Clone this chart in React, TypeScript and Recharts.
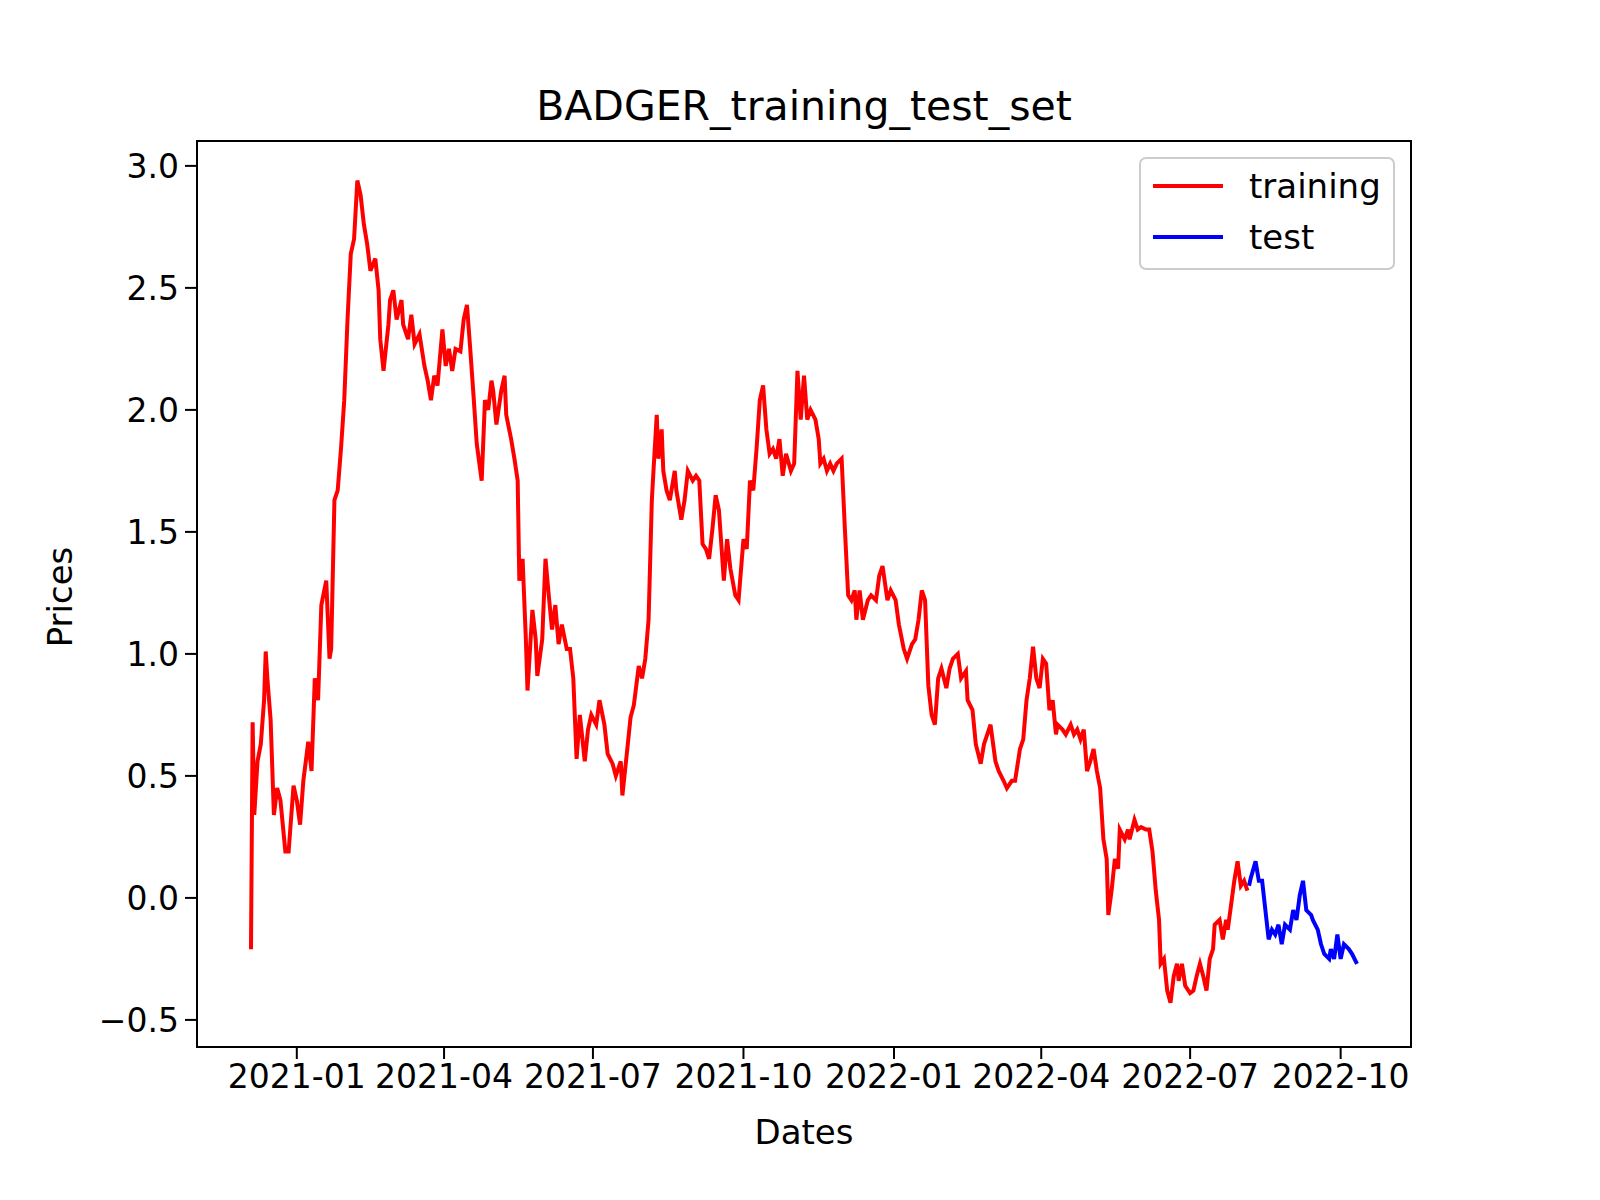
import React, { useEffect } from "react";
import { LineChart, Line, XAxis, YAxis } from "recharts";

// days since 2021-01-01
const trainDays = [-28,-27,-26,-24,-22,-20,-19,-18,-16,-14,-12,-10,-7,-5,-2,0,2,4,7,9,11,13,15,18,20,21,23,25,27,29,31,33,35,37,39,41,43,45,48,50,51,53,56,57,59,61,64,65,68,70,72,75,78,80,82,84,86,89,91,93,95,97,100,102,104,106,108,110,113,115,117,119,120,122,125,127,128,131,133,135,136,138,140,141,144,146,147,150,152,154,156,158,160,162,165,167,169,171,173,176,178,180,183,185,188,190,193,195,198,199,202,204,206,209,211,213,215,217,218,220,221,223,224,226,228,231,232,235,237,239,242,244,246,248,250,252,254,256,258,261,263,265,268,270,273,275,277,279,281,283,285,287,289,291,293,295,297,299,302,304,306,308,310,312,314,317,319,320,322,324,326,328,330,333,335,337,339,341,342,344,346,349,351,354,356,358,361,363,366,368,371,373,376,378,380,382,384,386,388,390,392,394,397,399,401,404,406,409,410,413,415,418,420,423,424,427,429,432,434,437,439,442,444,446,448,450,452,454,456,458,460,462,464,465,468,470,473,475,477,479,481,483,485,487,489,491,493,495,496,498,500,502,503,506,508,509,512,514,516,519,521,523,525,527,528,530,532,534,536,538,539,541,543,546,548,550,552,554,556,558,560,561,564,566,568,569,571,573,575,577,579,581];
const trainPrices = [-0.21,0.72,0.34,0.56,0.63,0.81,1.01,0.90,0.73,0.34,0.45,0.40,0.19,0.19,0.46,0.40,0.30,0.48,0.64,0.52,0.90,0.81,1.20,1.30,0.98,1.02,1.63,1.67,1.84,2.04,2.37,2.64,2.70,2.94,2.88,2.76,2.68,2.57,2.62,2.49,2.29,2.16,2.35,2.45,2.49,2.37,2.45,2.35,2.29,2.39,2.27,2.31,2.18,2.12,2.04,2.14,2.10,2.33,2.18,2.25,2.16,2.25,2.24,2.37,2.43,2.25,2.06,1.86,1.71,2.04,2.00,2.12,2.08,1.94,2.08,2.14,1.98,1.88,1.80,1.71,1.30,1.39,1.06,0.85,1.18,1.06,0.91,1.06,1.39,1.24,1.10,1.20,1.04,1.12,1.02,1.02,0.90,0.57,0.75,0.56,0.69,0.75,0.71,0.81,0.71,0.59,0.55,0.50,0.56,0.42,0.61,0.74,0.79,0.95,0.90,0.98,1.14,1.63,1.75,1.98,1.80,1.92,1.75,1.67,1.63,1.75,1.67,1.55,1.63,1.75,1.71,1.73,1.71,1.45,1.43,1.39,1.51,1.65,1.59,1.30,1.47,1.35,1.24,1.22,1.47,1.43,1.71,1.67,1.84,2.04,2.10,1.92,1.82,1.84,1.80,1.88,1.73,1.82,1.75,1.78,2.16,1.96,2.14,1.96,2.00,1.96,1.88,1.78,1.80,1.75,1.78,1.75,1.78,1.80,1.51,1.24,1.22,1.26,1.14,1.26,1.14,1.22,1.24,1.22,1.32,1.36,1.22,1.26,1.22,1.12,1.02,0.98,1.04,1.06,1.14,1.26,1.22,0.87,0.75,0.71,0.90,0.94,0.86,0.94,0.98,1.00,0.90,0.93,0.81,0.77,0.63,0.55,0.63,0.69,0.71,0.56,0.52,0.48,0.45,0.48,0.48,0.61,0.65,0.81,0.90,1.03,0.90,0.86,0.98,0.96,0.77,0.81,0.67,0.71,0.69,0.67,0.71,0.67,0.69,0.65,0.69,0.52,0.56,0.61,0.52,0.45,0.24,0.16,-0.07,0.03,0.16,0.12,0.28,0.24,0.28,0.24,0.32,0.28,0.29,0.28,0.28,0.19,0.03,-0.09,-0.27,-0.25,-0.38,-0.43,-0.32,-0.27,-0.34,-0.27,-0.36,-0.39,-0.38,-0.32,-0.27,-0.32,-0.38,-0.25,-0.21,-0.11,-0.09,-0.17,-0.09,-0.13,-0.03,0.07,0.15,0.05,0.07,0.03];

const testDays = [582,583,586,588,590,592,594,596,598,600,602,604,607,609,611,613,615,617,620,621,624,626,628,631,632,634,636,638,640,643,645,648];
const testPrices = [0.05,0.08,0.15,0.07,0.07,-0.05,-0.17,-0.13,-0.15,-0.11,-0.19,-0.11,-0.13,-0.05,-0.09,0.01,0.07,-0.05,-0.07,-0.09,-0.13,-0.19,-0.23,-0.25,-0.21,-0.25,-0.15,-0.25,-0.19,-0.21,-0.23,-0.27];

const xTicks = [0, 90, 181, 273, 365, 455, 546, 638];
const xTickLabels = ["2021-01","2021-04","2021-07","2021-10","2022-01","2022-04","2022-07","2022-10"];
const yTicks = [-0.5, 0, 0.5, 1.0, 1.5, 2.0, 2.5, 3.0];

const trainData = trainDays.map((d, i) => ({ d, v: trainPrices[i] }));
const testData = testDays.map((d, i) => ({ d, v: testPrices[i] }));

const font = "DejaVu Sans";
const tickFont = 33;

export default function App() {
  useEffect(() => {
    document.body.style.margin = "0";
    document.body.style.overflow = "hidden";
  }, []);
  return (
    <div style={{ position: "absolute", left: 0, top: 0, width: 1600, height: 1200, background: "#fff", fontFamily: font, overflow: "hidden" }}>
      <LineChart width={1600} height={1200} margin={{ top: 141, right: 189, left: 77, bottom: 73 }}>
        <XAxis xAxisId="b" dataKey="d" type="number" domain={[-61, 681]} ticks={xTicks}
          tickFormatter={(v: number) => xTickLabels[xTicks.indexOf(v)]}
          height={80} stroke="#000" strokeWidth={2} tick={{ fill: "#000", fontSize: tickFont, fontFamily: font }} tickSize={12} tickMargin={6} allowDataOverflow />
        <YAxis yAxisId="l" type="number" domain={[-0.611, 3.102]} ticks={yTicks}
          tickFormatter={(v: number) => (v < 0 ? "\u2212" + Math.abs(v).toFixed(1) : v.toFixed(1))}
          width={120} stroke="#000" strokeWidth={2} tick={{ fill: "#000", fontSize: tickFont, fontFamily: font }} tickSize={12} tickMargin={6} allowDataOverflow />
        <Line xAxisId="b" yAxisId="l" data={trainData} dataKey="v" stroke="#ff0000" strokeWidth={4} dot={false} isAnimationActive={false} />
        <Line xAxisId="b" yAxisId="l" data={testData} dataKey="v" stroke="#0000ff" strokeWidth={4} dot={false} isAnimationActive={false} />
        <rect x={197} y={141} width={1214} height={906} fill="none" stroke="#000" strokeWidth={2} />
        <text x={804} y={120} textAnchor="middle" fontSize={41} fontFamily={font} fill="#000">BADGER_training_test_set</text>
        <text x={804} y={1144} textAnchor="middle" fontSize={34} fontFamily={font} fill="#000">Dates</text>
        <text x={72} y={597} textAnchor="middle" fontSize={34} fontFamily={font} fill="#000" transform="rotate(-90 72 597)">Prices</text>
        <rect x={1140} y={158} width={254} height={111} rx={6} fill="#fff" fillOpacity={0.8} stroke="#ccc" strokeWidth={2} />
        <line x1={1153} x2={1223} y1={186} y2={186} stroke="#ff0000" strokeWidth={4} />
        <line x1={1153} x2={1223} y1={237} y2={237} stroke="#0000ff" strokeWidth={4} />
        <text x={1249} y={198} fontSize={34} fontFamily={font} fill="#000">training</text>
        <text x={1249} y={249} fontSize={34} fontFamily={font} fill="#000">test</text>
      </LineChart>
    </div>
  );
}
